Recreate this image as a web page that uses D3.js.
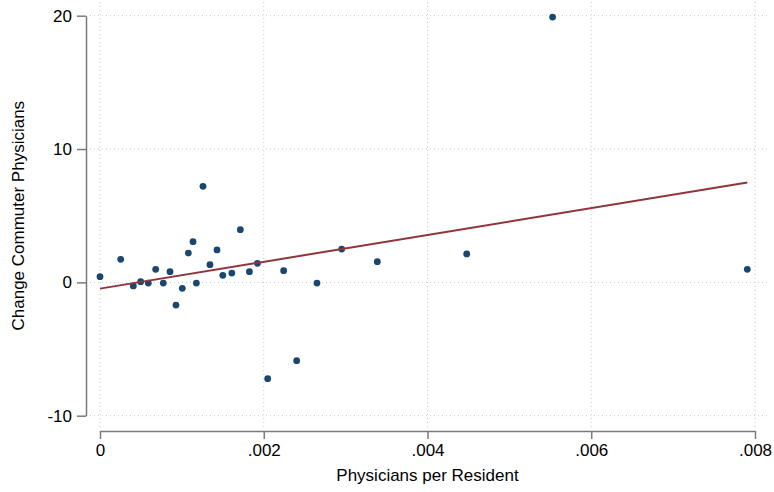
<!DOCTYPE html>
<html>
<head>
<meta charset="utf-8">
<script src="https://cdn.jsdelivr.net/npm/d3@7"></script>
<style>
  body { margin: 0; background: #fff; }
  text { font-family: "Liberation Sans", Arial, sans-serif; fill: #000; }
</style>
</head>
<body>
<div id="container"></div>
<script>
// physicians per resident (x) and change in commuter physicians (y)
const physPerResident = [
    0, 0.000253, 0.000407, 0.000497, 0.00059, 0.00068, 0.000773, 0.000855,
    0.000928, 0.001005, 0.001079, 0.001136, 0.001177, 0.001258, 0.001343,
    0.001429, 0.0015, 0.00161, 0.001714, 0.001825, 0.001923, 0.002048,
    0.002243, 0.002402, 0.00265, 0.002952, 0.003387, 0.004479, 0.005528, 0.007906
];
const changeCommuter = [
    0.43, 1.73, -0.27, 0.05, -0.05, 0.98, -0.05, 0.8,
    -1.7, -0.45, 2.2, 3.05, -0.05, 7.2, 1.33,
    2.43, 0.53, 0.7, 3.95, 0.8, 1.43, -7.22,
    0.88, -5.87, -0.05, 2.5, 1.55, 2.13, 19.9, 0.98
];
const xTicks = [0, 0.002, 0.004, 0.006, 0.008];
const xTickLabels = ['0', '.002', '.004', '.006', '.008'];
const yTicks = [-10, 0, 10, 20];
const yTickLabels = ['-10', '0', '10', '20'];
// fitted line
const fitIntercept = -0.47;
const fitSlope = 1006;

const width = 774, height = 492;
const font = '"Liberation Sans", Arial, sans-serif';
const svg = d3.select('#container').append('svg')
    .attr('width', width)
    .attr('height', height);

const xScale = d3.scaleLinear().domain([0, 0.008]).range([100, 755]);
const yScale = d3.scaleLinear().domain([-10, 20]).range([415.7, 15.7]);

const gridColor = '#c8c8c8';
const axisColor = '#7a7a7a';

// gridlines
svg.append('g').selectAll('line')
    .data(yTicks)
    .join('line')
    .attr('x1', 90).attr('x2', 767)
    .attr('y1', d => yScale(d)).attr('y2', d => yScale(d))
    .attr('stroke', gridColor)
    .attr('stroke-width', 1)
    .attr('stroke-dasharray', '1,3');
svg.append('g').selectAll('line')
    .data(xTicks)
    .join('line')
    .attr('x1', d => xScale(d)).attr('x2', d => xScale(d))
    .attr('y1', 2).attr('y2', 427)
    .attr('stroke', gridColor)
    .attr('stroke-width', 1)
    .attr('stroke-dasharray', '1,3');

// y axis
const yAxis = d3.axisLeft(yScale)
    .tickValues(yTicks)
    .tickFormat((d, i) => yTickLabels[i])
    .tickSize(9)
    .tickSizeOuter(0)
    .tickPadding(5);
const yAxisG = svg.append('g')
    .attr('transform', 'translate(86,0)')
    .call(yAxis);
yAxisG.selectAll('path, line').attr('stroke', axisColor).attr('stroke-width', 1.5);
yAxisG.selectAll('text').style('font-size', '17px').style('font-family', font).attr('fill', '#000');

// x axis
const xAxis = d3.axisBottom(xScale)
    .tickValues(xTicks)
    .tickFormat((d, i) => xTickLabels[i])
    .tickSize(8)
    .tickSizeOuter(0)
    .tickPadding(5);
const xAxisG = svg.append('g')
    .attr('transform', 'translate(0,431)')
    .call(xAxis);
xAxisG.selectAll('path, line').attr('stroke', axisColor).attr('stroke-width', 1.5);
xAxisG.selectAll('text').style('font-size', '17px').style('font-family', font).attr('fill', '#000');

// axis titles
svg.append('text')
    .attr('x', xScale(0.004))
    .attr('y', 481)
    .style('text-anchor', 'middle')
    .style('font-size', '17px')
    .text('Physicians per Resident');
svg.append('text')
    .attr('transform', 'rotate(-90)')
    .attr('x', -yScale(5))
    .attr('y', 24)
    .style('text-anchor', 'middle')
    .style('font-size', '17px')
    .text('Change Commuter Physicians');

// points
const data = physPerResident.map((x, i) => ({ x: x, y: changeCommuter[i] }));
svg.append('g').selectAll('circle')
    .data(data)
    .join('circle')
    .attr('cx', d => xScale(d.x))
    .attr('cy', d => yScale(d.y))
    .attr('r', 3.4)
    .attr('fill', '#1a476f');

// fitted line over data range
const xExt = d3.extent(physPerResident);
const line = d3.line()
    .x(d => xScale(d))
    .y(d => yScale(fitIntercept + fitSlope * d));
svg.append('path')
    .datum(xExt)
    .attr('d', line)
    .attr('stroke', '#90353b')
    .attr('stroke-width', 2)
    .attr('fill', 'none');
</script>
</body>
</html>
